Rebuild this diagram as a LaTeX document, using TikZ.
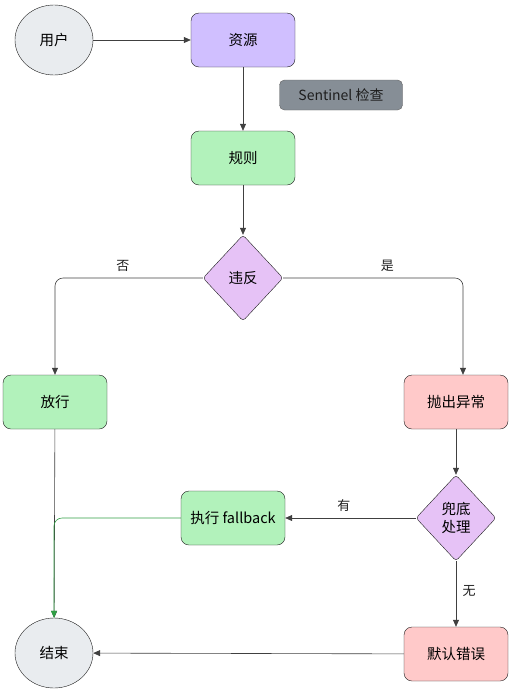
\documentclass[tikz,border=0pt]{standalone}
\usepackage{fontspec}
\setmainfont{Noto Sans CJK SC}
\usetikzlibrary{shapes.geometric,arrows.meta}
\definecolor{strich}{HTML}{1E1E1E}
\definecolor{grau}{HTML}{E9ECEF}
\definecolor{lila}{HTML}{D0BFFF}
\definecolor{gruen}{HTML}{B2F2BB}
\definecolor{rosa}{HTML}{FFC9C9}
\definecolor{flieder}{HTML}{E6C2F6}
\definecolor{notiz}{HTML}{868E96}
\definecolor{linie}{HTML}{2F9E44}
\tikzset{%
		kasten/.style={draw=strich,thin,rounded corners=8pt,minimum width=104pt,minimum height=54pt,font=\fontsize{14.5}{17}\selectfont},
		kreis/.style={draw=strich,thin,ellipse,fill=grau,minimum width=78pt,minimum height=70pt,font=\fontsize{14.5}{17}\selectfont},
		raute/.style={draw=strich,thin,diamond,fill=flieder,rounded corners=3pt,inner sep=0pt,minimum width=80pt,minimum height=86pt,align=center,font=\fontsize{14.5}{18}\selectfont},
		pfeil/.style={draw=strich!85,line width=.6pt,-{Triangle[length=7pt,width=6pt]}},
		beschriftung/.style={font=\fontsize{13}{15}\selectfont,text=strich}
	}

\begin{document}
\begin{tikzpicture}[x=1pt,y=-1pt]
    \useasboundingbox (0,0) rectangle (511,694);
    \node[kreis] (nutzer) at (54,40) {用户};
    \node[kasten,fill=lila] (ressource) at (243,40) {资源};
    \node[draw=strich!70,fill=notiz,rounded corners=5pt,minimum width=123pt,minimum height=30pt,font=\fontsize{14}{16}\selectfont,text=strich] (sentinel) at (341,95) {Sentinel 检查};
    \node[kasten,fill=gruen] (regel) at (243,158) {规则};
    \node[raute] (verstoss) at (243,278) {违反};
    \node[kasten,fill=gruen] (durchlass) at (55,402) {放行};
    \node[kasten,fill=rosa] (ausnahme) at (456,402) {抛出异常};
    \node[raute] (rueckfall) at (456,518) {兜底\\处理};
    \node[kasten,fill=gruen] (fallback) at (233,518) {执行 fallback};
    \node[kasten,fill=rosa] (fehler) at (456,654) {默认错误};
    \node[kreis] (ende) at (54,653) {结束};
    % Verbindungen
    \draw[pfeil] (nutzer) -- (ressource);
    \draw[pfeil] (ressource) -- (regel);
    \draw[pfeil] (regel) -- (verstoss);
    \draw[pfeil,rounded corners=8pt] (verstoss.west) -| node[beschriftung,pos=.27,above=3pt]{否} (durchlass);
    \draw[pfeil,rounded corners=8pt] (verstoss.east) -| node[beschriftung,pos=.29,above=3pt]{是} ([xshift=7pt]ausnahme.north);
    \draw[pfeil] (ausnahme) -- (rueckfall);
    \draw[pfeil] (rueckfall.west) -- node[beschriftung,pos=.55,above=3pt]{有} (fallback.east);
    \draw[pfeil] (durchlass) -- (ende);
    \draw[pfeil,draw=linie,rounded corners=8pt] (fallback.west) -| (ende);
    \draw[pfeil] (rueckfall.south) -- node[beschriftung,right=3pt,pos=.45]{无} (fehler);
    \draw[pfeil] (fehler) -- (ende);
\end{tikzpicture}
\end{document}
